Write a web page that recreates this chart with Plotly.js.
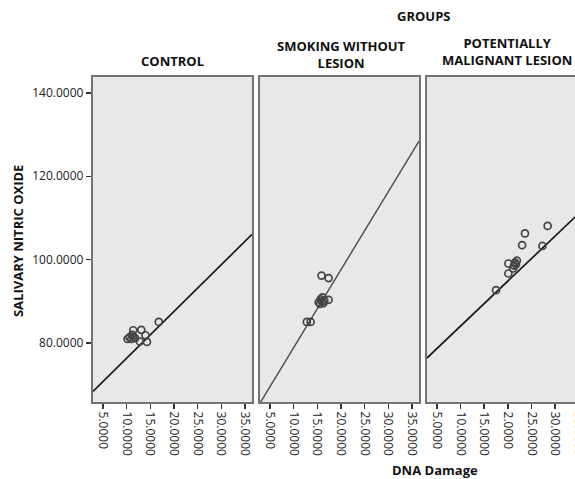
<!DOCTYPE html>
<html>
<head>
<meta charset="utf-8">
<script src="https://cdn.plot.ly/plotly-3.0.1.min.js"></script>
<style>
html, body { margin: 0; padding: 0; overflow: hidden; background: #fff; }
#chart { width: 590px; height: 479px; }
</style>
</head>
<body>
<div id="chart"></div>
<script>
// ---- data ----
const groupNames = ["CONTROL", "SMOKING WITHOUT<br>LESION", "POTENTIALLY<br>MALIGNANT LESION"];
const xTickVals = [5, 10, 15, 20, 25, 30, 35];
const xTickText1 = ["5.0000", "10.0000", "15.0000", "20.0000", "25.0000", "30.0000", "35.0000"];
const xTickText2 = ["5.0000", "10.0000", "15.0000", "20.0000", "25.0000", "30.0000", "35.0000"];
const xTickText3 = ["5.0000", "10.0000", "15.0000", "2.0000", "25.0000", "30.0000", "35.0000"];
const yTickVals = [80, 100, 120, 140];
const yTickText = ["80.0000", "100.0000", "120.0000", "140.0000"];

const controlDNA = [10.2, 10.6, 11.0, 11.4, 11.8, 11.2, 11.4, 13.1, 14.0, 12.8, 14.3, 16.8];
const controlNO  = [81.0, 81.4, 81.0, 81.5, 81.2, 82.0, 83.1, 83.2, 81.9, 80.4, 80.3, 85.1];

const smokingDNA = [15.9, 17.4, 15.3, 15.7, 16.1, 16.5, 15.6, 16.0, 16.3, 17.4, 12.8, 13.6];
const smokingNO  = [96.2, 95.6, 89.8, 90.5, 91.0, 90.2, 89.4, 90.0, 89.6, 90.4, 85.1, 85.1];

const plmDNA = [28.4, 23.6, 23.0, 27.3, 20.1, 21.5, 21.9, 21.3, 21.7, 21.1, 20.1, 17.5];
const plmNO  = [108.1, 106.3, 103.5, 103.3, 99.1, 99.3, 99.8, 98.6, 98.9, 97.9, 96.7, 92.7];

// fit lines: intercept, slope
const fitIntercepts = [65.2, 60.2, 73.3];
const fitSlopes = [1.12, 1.87, 1.08];

const xRange = [2.9, 36.5];
const yRange = [65.9, 143.8];

// ---- traces ----
const pts = [[controlDNA, controlNO], [smokingDNA, smokingNO], [plmDNA, plmNO]];
const axX = ["x", "x2", "x3"], axY = ["y", "y2", "y3"];
const lineColors = ["#1a1a1a", "#4a4a4a", "#1a1a1a"];
const lineWidths = [1.7, 1.4, 1.7];
const traces = [];
for (let i = 0; i < 3; i++) {
  const lx = [xRange[0], xRange[1]];
  const ly = lx.map(v => fitIntercepts[i] + fitSlopes[i] * v);
  traces.push({
    x: lx, y: ly, xaxis: axX[i], yaxis: axY[i], mode: "lines",
    line: { color: lineColors[i], width: lineWidths[i] }, hoverinfo: "skip", showlegend: false
  });
  traces.push({
    x: pts[i][0], y: pts[i][1], xaxis: axX[i], yaxis: axY[i], mode: "markers",
    marker: { symbol: "circle-open", size: 7, color: "#444", line: { width: 1.7 } },
    showlegend: false
  });
}

const frame = { showline: true, mirror: true, linecolor: "#737373", linewidth: 2.2, showgrid: false, zeroline: false };
const tickFont = { family: "Open Sans", size: 12, color: "#222" };
function xAxis(domain, text, anchor) {
  return Object.assign({}, frame, {
    domain: domain, range: xRange, anchor: anchor,
    tickmode: "array", tickvals: xTickVals, ticktext: text,
    ticks: "outside", ticklen: 5, tickwidth: 1.5, tickcolor: "#333",
    tickangle: 90, tickfont: tickFont
  });
}
function yAxis(anchor, showTicks) {
  return Object.assign({}, frame, {
    domain: [0, 1], range: yRange, anchor: anchor,
    tickmode: "array", tickvals: yTickVals, ticktext: yTickText,
    ticks: showTicks ? "outside" : "", ticklen: 5, tickwidth: 1.5, tickcolor: "#333",
    showticklabels: showTicks, tickfont: tickFont
  });
}

const titleFont = { family: "Open Sans", size: 13, color: "#111" };
const layout = {
  width: 590, height: 479,
  margin: { l: 93, r: 3, t: 77, b: 77 },
  paper_bgcolor: "#ffffff", plot_bgcolor: "#e8e8e8",
  showlegend: false,
  xaxis: xAxis([0, 0.3219], xTickText1, "y"),
  xaxis2: xAxis([0.338, 0.660], xTickText2, "y2"),
  xaxis3: xAxis([0.676, 0.998], xTickText3, "y3"),
  yaxis: yAxis("x", true),
  yaxis2: yAxis("x2", false),
  yaxis3: yAxis("x3", false),
  annotations: [
    { text: "<b>GROUPS</b>", xref: "paper", yref: "paper", x: 0.670, y: 1.1877, showarrow: false, font: titleFont, xanchor: "center", yanchor: "middle" },
    { text: "<b>" + groupNames[0] + "</b>", xref: "paper", yref: "paper", x: 0.160, y: 1.049, showarrow: false, font: titleFont, xanchor: "center", yanchor: "middle" },
    { text: "<b>" + groupNames[1] + "</b>", xref: "paper", yref: "paper", x: 0.504, y: 1.069, showarrow: false, font: titleFont, xanchor: "center", yanchor: "middle" },
    { text: "<b>" + groupNames[2] + "</b>", xref: "paper", yref: "paper", x: 0.838, y: 1.078, showarrow: false, font: titleFont, xanchor: "center", yanchor: "middle" },
    { text: "<b>DNA Damage</b>", xref: "paper", yref: "paper", x: 0.692, y: -0.209, showarrow: false, font: titleFont, xanchor: "center", yanchor: "middle" },
    { text: "<b>SALIVARY NITRIC OXIDE</b>", xref: "paper", yref: "paper", x: -0.152, y: 0.495, textangle: -90, showarrow: false, font: titleFont, xanchor: "center", yanchor: "middle" }
  ]
};

Plotly.newPlot("chart", traces, layout, { displayModeBar: false, staticPlot: true });
</script>
</body>
</html>
